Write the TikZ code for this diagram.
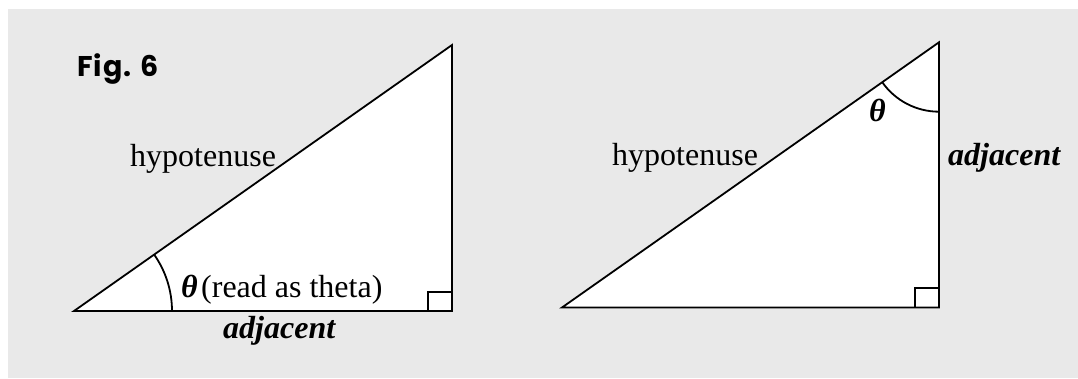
\documentclass[tikz,border=0pt]{standalone}
\usepackage{fontspec}
\setmainfont{Liberation Serif}
\newfontfamily\figfont[LetterSpace=4]{Poppins}
\definecolor{panelgray}{HTML}{E9E9E9}
\begin{document}
\begin{tikzpicture}[x=1pt,y=1pt,
  tri/.style={draw=black,fill=white,line width=1.8pt,line join=miter},
  anglemark/.style={draw=black,line width=1.8pt},
  lbl/.style={inner sep=0pt,anchor=base west,font=\fontsize{32}{38}\selectfont},
  bilbl/.style={lbl,font=\fontsize{32}{38}\selectfont\bfseries\itshape}]
\useasboundingbox (0,0) rectangle (1078,378);
\fill[panelgray] (8,0) rectangle (1078,368.5);
% left triangle
\coordinate (A) at (74,67);
\coordinate (B) at (452,67);
\coordinate (C) at (452,333);
\draw[tri] (A) -- (B) -- (C) -- cycle;
\draw[anglemark] (428,67) rectangle (452,86);
\draw[anglemark] ([xshift=98pt]A) arc[start angle=0,end angle=35.13,radius=98pt];
\node[lbl] (hypL) at (130,211.3) {hypotenuse};
\node[bilbl] (thetaL) at (181,81) {θ};
\node[lbl] (readL) at (201,81) {(read as theta)};
\node[bilbl] (adjL) at (223,40) {adjacent};
\node[inner sep=0pt,anchor=base west,font=\figfont\bfseries\fontsize{28.5}{34}\selectfont] (fig) at (77,301.3) {Fig.\hspace{9pt}6};
% right triangle
\coordinate (D) at (562,70.5);
\coordinate (E) at (939,70.5);
\coordinate (F) at (939,335.7);
\draw[tri] (D) -- (E) -- (F) -- cycle;
\draw[anglemark] (915,70.5) rectangle (939,90);
\draw[anglemark] ([yshift=-69.4pt]F) arc[start angle=270,end angle=215.13,radius=69.4pt];
\node[lbl] (hypR) at (612,212) {hypotenuse};
\node[bilbl] (thetaR) at (869,256) {θ};
\node[bilbl] (adjR) at (948,212) {adjacent};
\end{tikzpicture}
\end{document}
